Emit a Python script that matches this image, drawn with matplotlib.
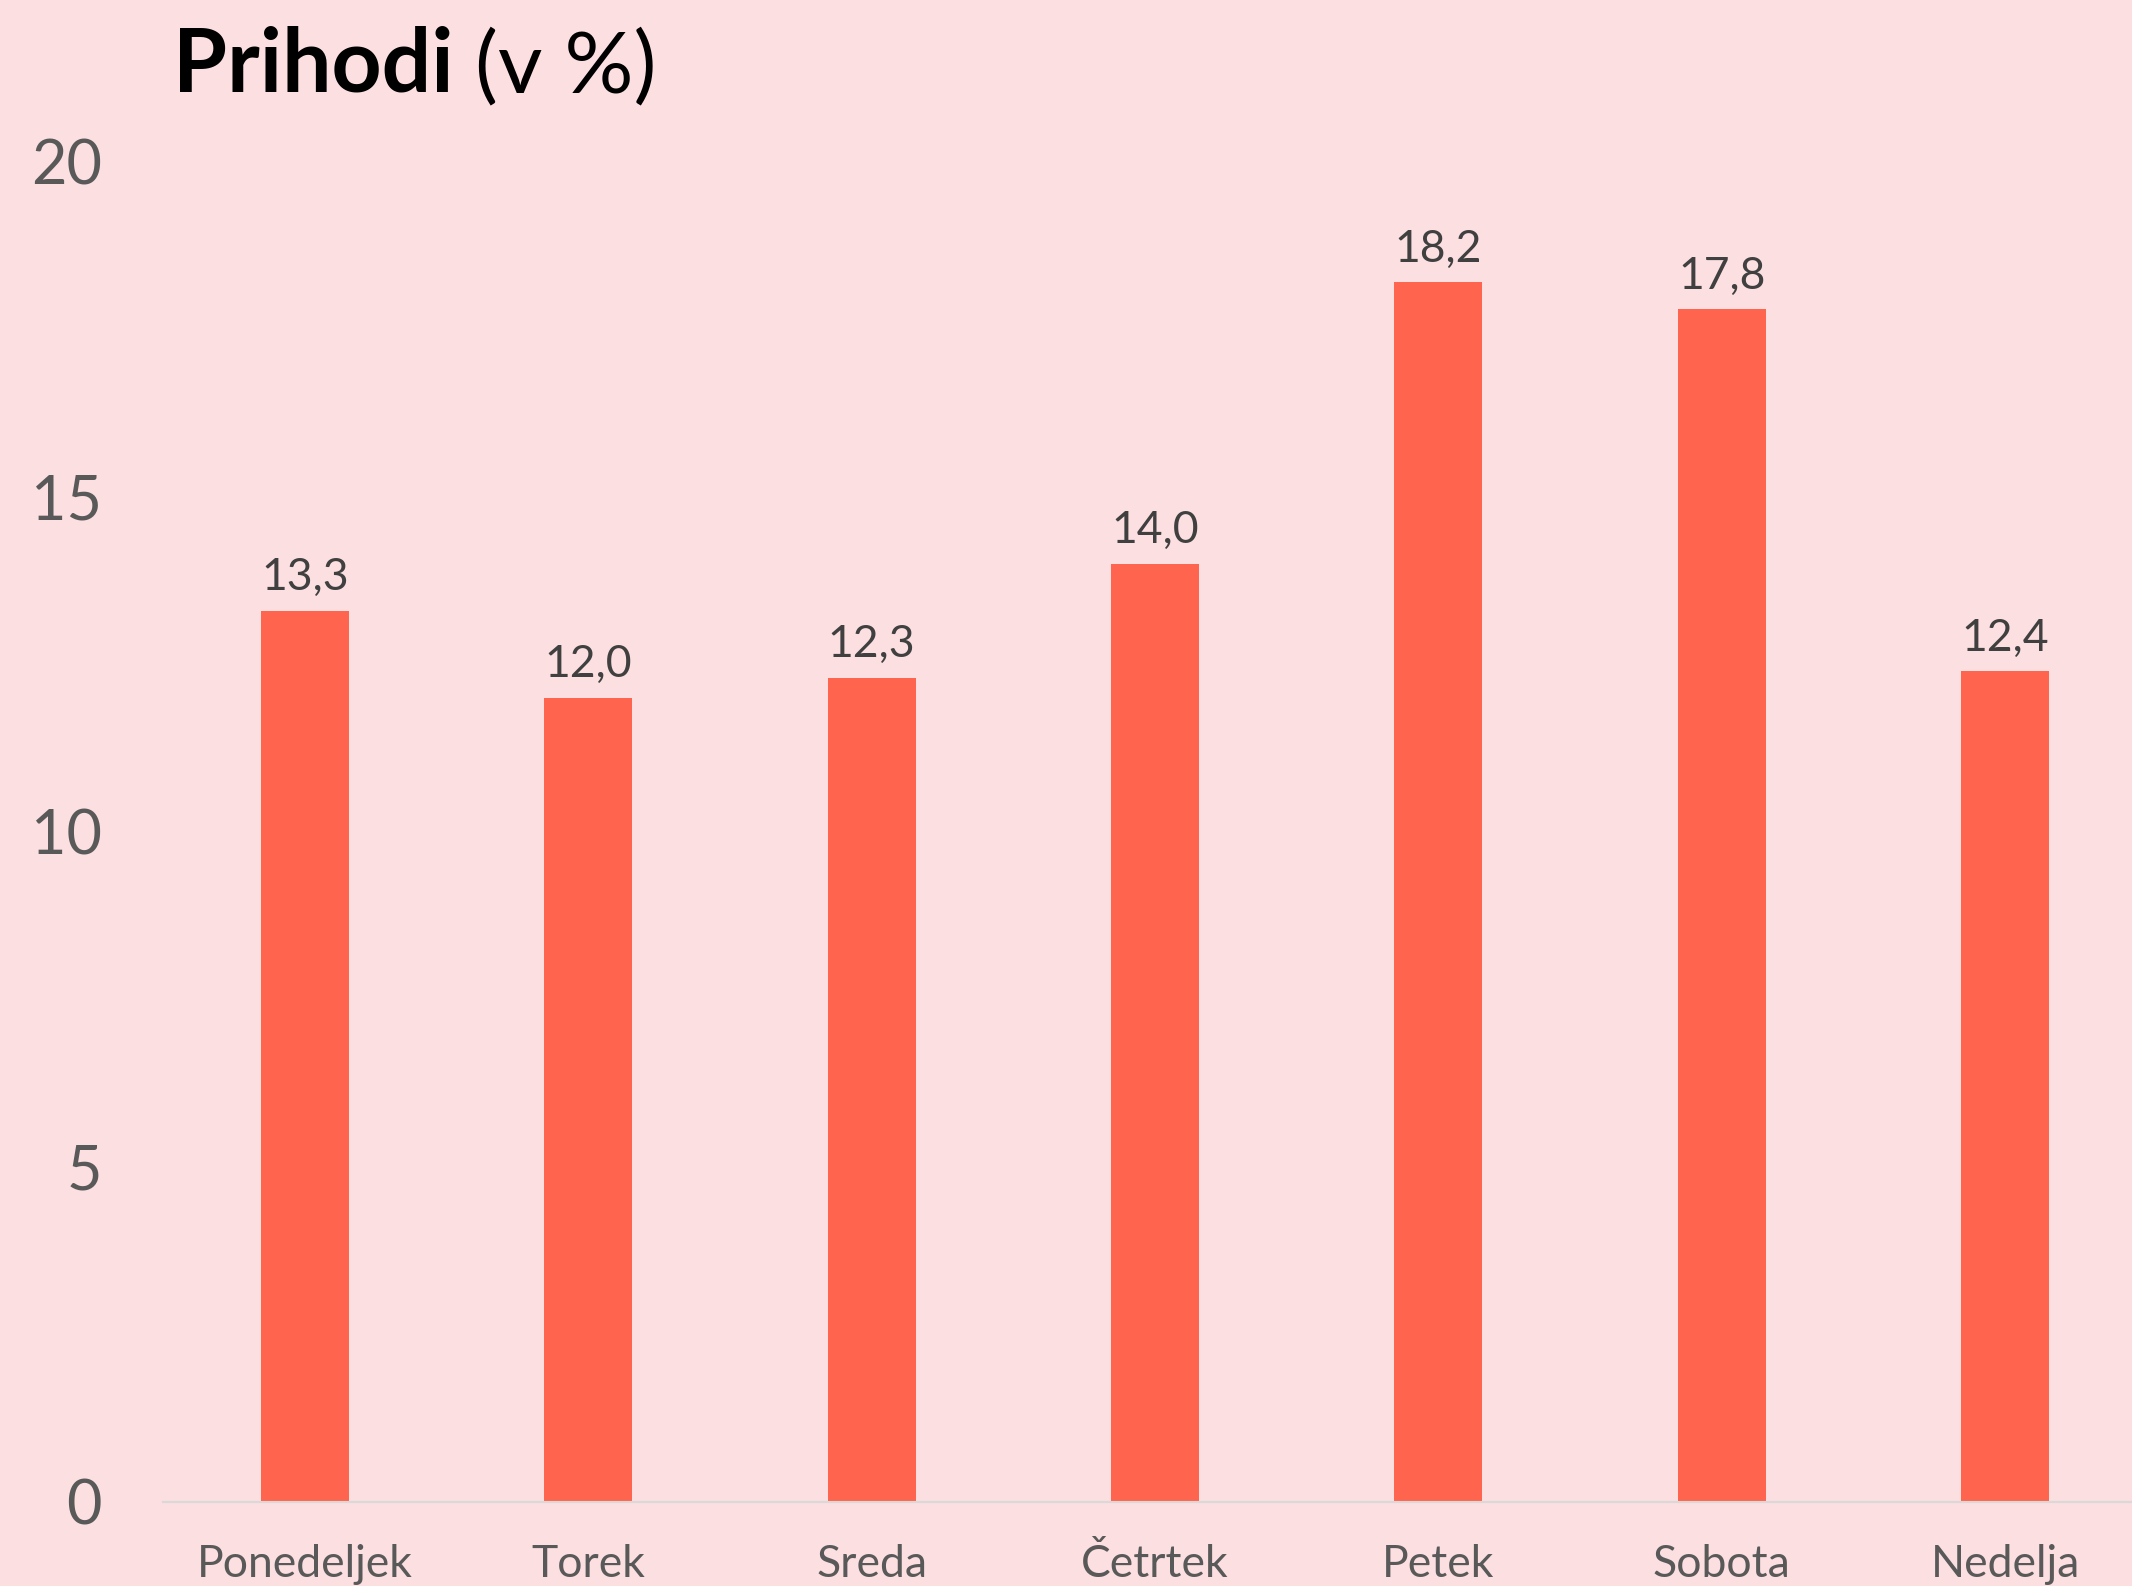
import matplotlib
matplotlib.use('Agg')
import matplotlib.pyplot as plt

days = ['Ponedeljek', 'Torek', 'Sreda', 'Četrtek', 'Petek', 'Sobota', 'Nedelja']
values = [13.3, 12.0, 12.3, 14.0, 18.2, 17.8, 12.4]
yticks = [0, 5, 10, 15, 20]

plt.rcParams['font.family'] = ['Lato', 'DejaVu Sans']

bg = '#FCDFE0'
fig = plt.figure(figsize=(21.32, 15.86), dpi=100, facecolor=bg)
ax = fig.add_axes([0.0765, 0.053, 0.9305, 0.845], facecolor=bg)

x = range(len(days))
ax.bar(x, values, width=0.31, color='#FF644E', zorder=2)
ax.set_xlim(-0.5, len(days) - 0.5)
ax.set_ylim(0, 20)
ax.set_yticks(yticks)
ax.set_yticklabels([str(t) for t in yticks], fontsize=44, color='#595959')
ax.set_xticks(list(x))
ax.set_xticklabels(days, fontsize=32, color='#595959')
ax.tick_params(axis='y', length=0, pad=44)
ax.tick_params(axis='x', length=0, pad=30)

for s in ['top', 'right', 'left']:
    ax.spines[s].set_visible(False)
ax.spines['bottom'].set_color('#D9D9D9')
ax.spines['bottom'].set_linewidth(1.5)

for i, v in enumerate(values):
    ax.annotate(f'{v:.1f}'.replace('.', ','), (i, v), xytext=(0, 9),
                textcoords='offset points', ha='center', va='bottom',
                fontsize=32, color='#404040')

t1 = fig.text(0.081, 0.942, 'Prihodi', fontsize=63, fontweight='bold',
              color='black', va='baseline')
fig.canvas.draw()
bb = t1.get_window_extent()
x2 = bb.x1 / fig.bbox.width
fig.text(x2, 0.942, ' (v %)', fontsize=62, color='black', va='baseline')

plt.savefig('out.png', dpi=100, facecolor=bg)
